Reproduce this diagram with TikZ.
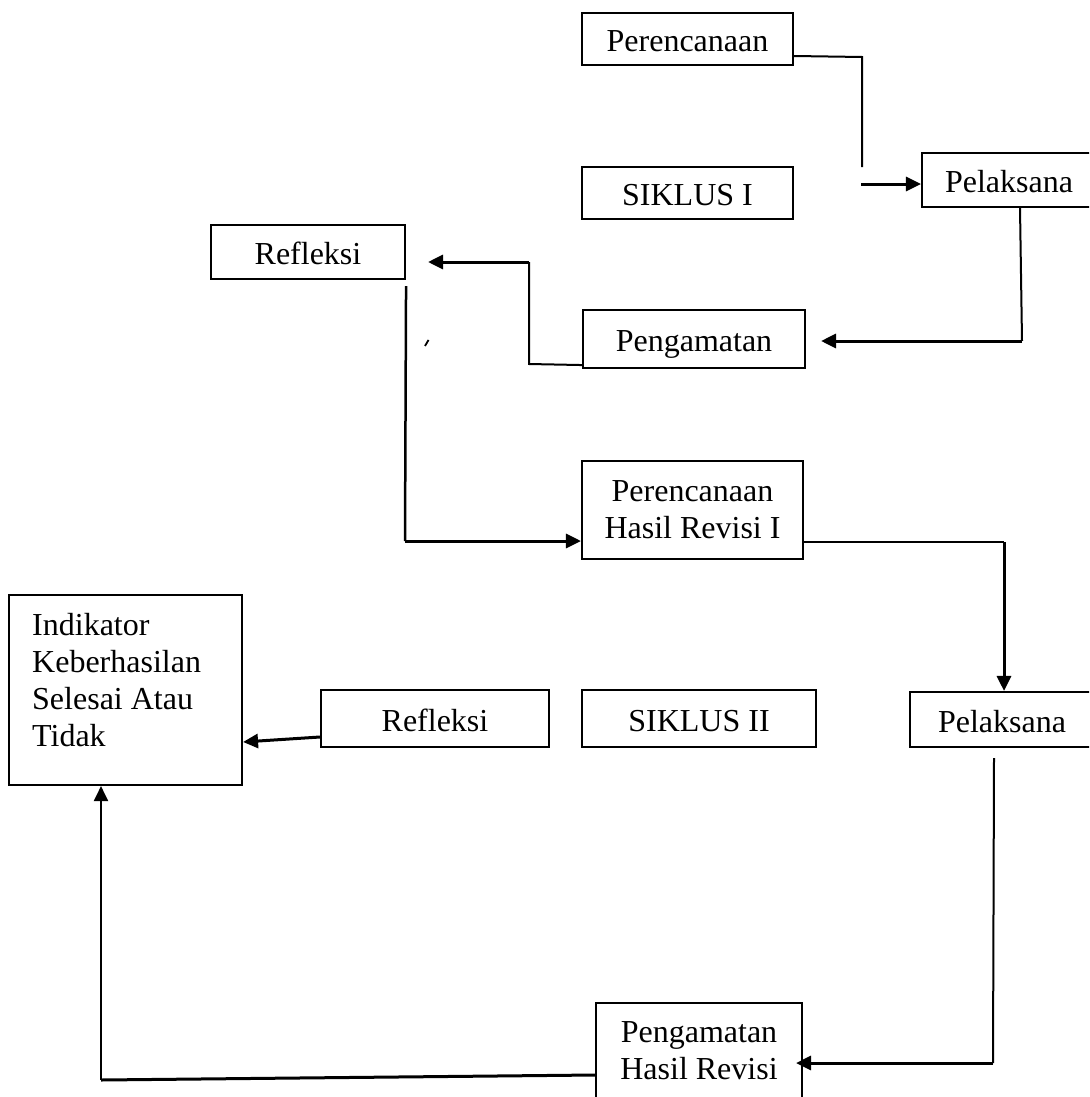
\documentclass[tikz,border=0pt]{standalone}
\usepackage{fontspec}
\setmainfont{Liberation Serif}
\usetikzlibrary{arrows.meta}
\newcommand\bigfs{\fontsize{32}{37}\selectfont}
\tikzset{
  frame/.style={draw, line width=2.1pt, inner sep=0pt, font=\bigfs},
  box/.style={frame, text height=25pt, text depth=0pt},
  thinln/.style={line width=2pt},
  medln/.style={line width=2.5pt},
  thickln/.style={line width=3pt},
  arr/.style={-{Triangle[length=15pt,width=14pt]}, line width=3pt}
}
\begin{document}
\begin{tikzpicture}[x=1pt,y=-1pt]
\useasboundingbox (0,0) rectangle (1089,1097);
\clip (0,0) rectangle (1089,1097);
% boxes
\node[box, minimum width=211pt, minimum height=52pt] (per1) at (687.5,39) {Perencanaan};
\node[box, minimum width=174pt, minimum height=54pt] (pel1) at (1009,180) {Pelaksana};
\node[box, minimum width=211pt, minimum height=52pt] (sik1) at (687.5,193) {SIKLUS I};
\node[box, minimum width=194pt, minimum height=54pt] (ref1) at (308,252) {Refleksi};
\node[box, minimum width=222pt, minimum height=58pt] (peng) at (694,339) {Pengamatan};
\node[frame, align=center, minimum width=221pt, minimum height=98pt] (phr1) at (692.5,510) {Perencanaan\\Hasil Revisi I};
\node[frame, minimum width=233pt, minimum height=190pt] (ind) at (125.5,690) {};
\node[anchor=north west, inner sep=0pt, align=left, font=\bigfs] (indtxt) at (32,613) {Indikator\\Keberhasilan\\Selesai Atau\\Tidak};
\node[box, minimum width=228pt, minimum height=57pt] (ref2) at (435,718.5) {Refleksi};
\node[box, minimum width=234pt, minimum height=57pt] (sik2) at (699,718.5) {SIKLUS II};
\node[box, minimum width=184pt, minimum height=55pt] (pel2) at (1002,719.5) {Pelaksana};
\node[frame, align=center, minimum width=206pt, minimum height=96pt] (phr2) at (699,1051) {Pengamatan\\Hasil Revisi};
% junction coordinates
\coordinate (j1) at (862,57);
\coordinate (j1b) at (862,167);
\coordinate (a2) at (861,184);
\coordinate (j3) at (1022,341);
\coordinate (j4a) at (529,364);
\coordinate (j4b) at (529,262);
\coordinate (j5) at (405,541);
\coordinate (j6) at (1004,542);
\coordinate (j7) at (993,1063);
\coordinate (j8) at (101,1080);
% connectors
\draw[thinln] ([yshift=-17pt]per1.east) -- (j1) -- (j1b);
\draw[arr] (a2) -- (a2 -| pel1.west);
\draw[thinln] ([xshift=11pt]pel1.south) -- (j3);
\draw[arr] (j3) -- ([xshift=15pt]peng.east |- j3);
\draw[thinln] ([yshift=4pt]peng.south west) -- (j4a) -- (j4b);
\draw[arr] (j4b) -- ([xshift=22pt]ref1.east |- j4b);
\draw[medln] ([yshift=-6pt]ref1.south east) -- (j5);
\draw[arr] (j5) -- (j5 -| phr1.west);
\draw[thinln] (j6 -| phr1.east) -- (j6);
\draw[arr] (j6) -- (j6 |- pel2.north);
\draw[thinln] ([xshift=-8pt,yshift=-10pt]pel2.south) -- (j7);
\draw[arr] (j7) -- ([xshift=-7pt]phr2.east |- j7);
\draw[thickln] ([yshift=-24pt]phr2.west) -- (j8);
\draw[arr, line width=2pt] (j8) -- (j8 |- ind.south);
\draw[arr] ([yshift=-18.5pt]ref2.west) -- ([yshift=-52pt]ind.east);
% stray tick
\draw[line width=1.8pt] (425,346) -- (428.5,340);
\end{tikzpicture}
\end{document}
